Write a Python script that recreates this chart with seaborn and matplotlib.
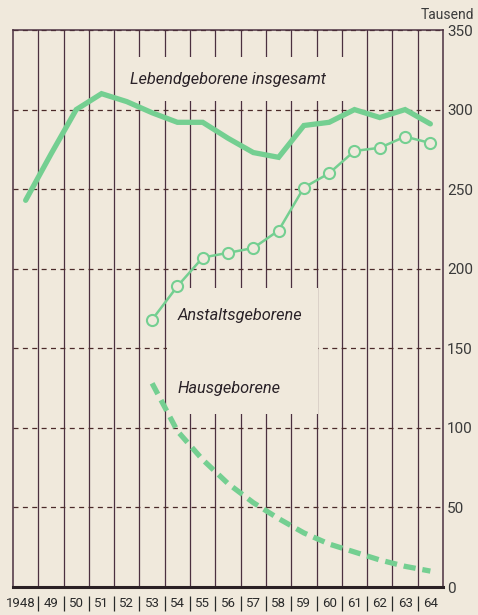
import numpy as np
import pandas as pd
import matplotlib
matplotlib.use("Agg")
import matplotlib.pyplot as plt
from matplotlib.patches import Rectangle
from matplotlib.transforms import ScaledTranslation
import seaborn as sns

# Lebendgeborene 1948-1964 (Tausend)
years = list(range(1948, 1965))
year_labels = ["1948"] + [str(y)[2:] for y in years[1:]]
lebend = [243, 272, 300, 310, 305, 298, 292, 292, 282, 273, 270, 290, 292, 300, 295, 300, 291]
anstalt_years = list(range(1953, 1965))
anstalt = [168, 189, 207, 210, 213, 224, 251, 260, 274, 276, 283, 279]
haus_years = list(range(1953, 1965))
haus = [128, 98, 80, 65, 53, 43, 34, 27, 22, 17, 13, 10]
y_ticks = [0, 50, 100, 150, 200, 250, 300, 350]

bg = "#f0e9dc"
green = "#74cf91"
ink = "#4b3040"

df_l = pd.DataFrame({"pos": [y - years[0] for y in years], "val": lebend})
df_a = pd.DataFrame({"pos": [y - years[0] for y in anstalt_years], "val": anstalt})
df_h = pd.DataFrame({"pos": [y - years[0] for y in haus_years], "val": haus})

sns.set_style("white")
plt.rcParams["font.family"] = ["Roboto", "DejaVu Sans"]

fig = plt.figure(figsize=(4.78, 6.15), dpi=100, facecolor=bg)
ax = fig.add_axes([0.0272, 0.0455, 0.8996, 0.9057])
ax.set_facecolor(bg)
ax.set_axisbelow(True)

# areas where the grid is broken for the labels
ax.add_patch(Rectangle((4.05, 305.5), 8.95, 27.5, facecolor=bg, edgecolor="none", zorder=1))
ax.add_patch(Rectangle((5.6, 109), 5.95, 78.6, facecolor=bg, edgecolor="none", zorder=1))

sns.lineplot(data=df_l, x="pos", y="val", ax=ax, color=green, lw=3.8,
             solid_joinstyle="miter", zorder=3)
sns.lineplot(data=df_a, x="pos", y="val", ax=ax, color=green, lw=1.8,
             marker="o", markersize=8, markerfacecolor=bg,
             markeredgecolor=green, markeredgewidth=1.5, zorder=3)
sns.lineplot(data=df_h, x="pos", y="val", ax=ax, color=green, lw=3.8,
             linestyle=(0, (2.3, 1.3)), zorder=3)

ax.set_xlim(-0.5, len(years) - 0.5)
ax.set_ylim(0, 350)

ax.set_xticks(df_l["pos"])
ax.set_xticklabels(year_labels)
ax.set_xticks(np.arange(0.5, len(years) - 1, 1), minor=True)
ax.tick_params(axis="x", which="both", length=0, pad=7, labelsize=9.5, labelcolor="#2a2a2a")
ax.grid(which="minor", axis="x", color=ink, lw=0.9, ls="-")
ax.grid(which="major", axis="x", visible=False)
first = ax.get_xticklabels()[0]
first.set_transform(first.get_transform() + ScaledTranslation(-5 / 100, 0, fig.dpi_scale_trans))

ax.yaxis.tick_right()
ax.set_yticks(y_ticks)
ax.tick_params(axis="y", length=0, pad=3, labelsize=11, labelcolor="#3a3a3a")
ax.grid(which="major", axis="y", color="#4b2a2a", lw=0.9, ls=(0, (4, 3.5)))

for s in ["left", "top", "right"]:
    ax.spines[s].set_color(ink)
    ax.spines[s].set_linewidth(1.1)
ax.spines["bottom"].set_color("#2a2024")
ax.spines["bottom"].set_linewidth(2.2)

# separators between year labels
ax.vlines(np.arange(0.5, len(years) - 1, 1), -0.016, -0.043,
          transform=ax.get_xaxis_transform(), clip_on=False, color="#2a2a2a", lw=0.9)

ax.set_xlabel("")
ax.set_ylabel("")

txt = dict(style="italic", va="center", ha="left", fontsize=11.8, color="#2a2228")
ax.text(4.12, 319, "Lebendgeborene insgesamt", **txt)
ax.text(6.02, 170.5, "Anstaltsgeborene", **txt)
ax.text(6.02, 125, "Hausgeborene", **txt)

fig.text(0.993, 0.976, "Tausend", ha="right", va="center", fontsize=10, color="#3a3a3a")

fig.savefig("out.png", dpi=100, facecolor=bg)
